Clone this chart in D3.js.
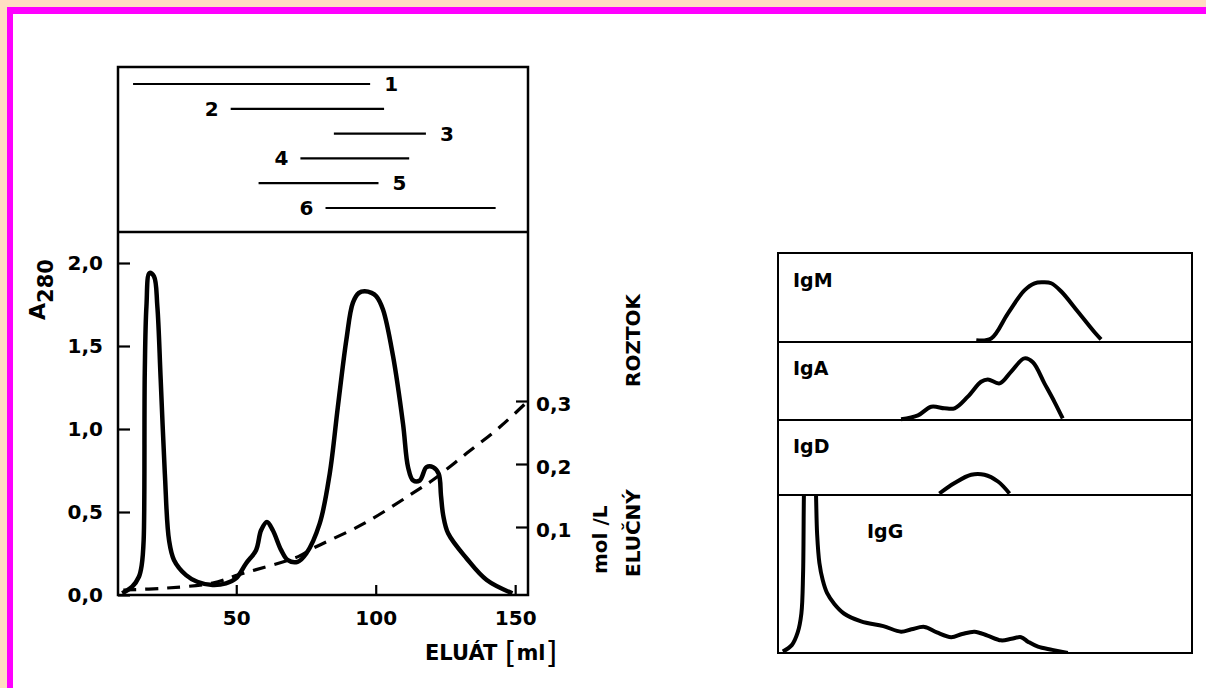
<!DOCTYPE html>
<html><head><meta charset="utf-8">
<script src="https://cdn.jsdelivr.net/npm/d3@7"></script>
<style>
html,body{margin:0;padding:0;background:#fff;}
svg{display:block;}
text{font-family:"DejaVu Sans",sans-serif;font-weight:bold;fill:#000;}
</style></head><body>
<svg id="c" width="1206" height="688"></svg>
<script>
// ---------- data ----------
const fractionIds = [1, 2, 3, 4, 5, 6];
const fractionStart = [13, 48, 85, 73, 58, 82];
const fractionEnd = [98, 103, 118, 112, 101, 143];
const fractionLabelSide = ["end", "start", "end", "start", "end", "start"];

const xTicks = [50, 100, 150];
const a280Ticks = [0, 0.5, 1.0, 1.5, 2.0];
const concTicks = [0.1, 0.2, 0.3];

const elutionMl = [9.1, 12.7, 15.1, 16.1, 16.8, 17.2, 17.8, 18.9, 20.5, 21.7, 22.9, 24.4, 25.9, 27.7, 32, 36, 41.5, 46.3, 49.9, 53.5, 57.1, 58.9, 61, 63.1, 66.1, 68.5, 72, 75.1, 79.9, 83.5, 86.4, 89.5, 91.8, 94, 96, 98.5, 100.2, 102.6, 106.2, 109.8, 111.6, 113.4, 115.8, 118.2, 120.6, 122.6, 123.4, 124.2, 126, 132.6, 139.8, 149];
const a280 = [0.01, 0.05, 0.11, 0.18, 0.33, 1.34, 1.74, 1.94, 1.92, 1.74, 1.30, 0.73, 0.33, 0.21, 0.12, 0.08, 0.06, 0.07, 0.10, 0.19, 0.27, 0.39, 0.44, 0.39, 0.27, 0.21, 0.20, 0.25, 0.43, 0.73, 1.13, 1.54, 1.76, 1.82, 1.83, 1.82, 1.80, 1.72, 1.44, 1.03, 0.77, 0.69, 0.69, 0.77, 0.77, 0.73, 0.60, 0.48, 0.37, 0.22, 0.09, 0.01];

const concMl = [9.5, 24.7, 41.5, 50.7, 72.2, 77.4, 96, 115.8, 120.6, 132.6, 144.6, 154.6];
const concMolL = [0.0, 0.003, 0.011, 0.024, 0.053, 0.066, 0.106, 0.161, 0.175, 0.217, 0.259, 0.30];

const igClasses = ["IgM", "IgA", "IgD", "IgG"];
const igmMl = [78, 83.3, 89.2, 95.1, 98.7, 101.6, 104.6, 108.1, 114.1, 120, 122.3];
const igmVal = [0.02, 0.04, 0.32, 0.58, 0.66, 0.67, 0.66, 0.57, 0.34, 0.11, 0.03];
const igaMl = [51.3, 57.3, 62, 66.7, 70.3, 75, 79.7, 82.1, 86.3, 90.4, 95.1, 98.1, 102.2, 105.8, 108.7];
const igaVal = [0.01, 0.06, 0.17, 0.15, 0.15, 0.30, 0.49, 0.52, 0.47, 0.62, 0.79, 0.74, 0.47, 0.23, 0.02];
const igdMl = [64.9, 70.3, 76.2, 80.9, 85.7, 89.8];
const igdVal = [0.02, 0.16, 0.27, 0.27, 0.18, 0.02];
const iggMl = [9.3, 12.5, 14.6, 15.9, 16.5, 16.8, 17.3, 18.9, 20.5, 21.1, 21.5, 22.3, 23.5, 25, 27.6, 31, 37.1, 45, 51.3, 55, 59.6, 64, 69.1, 73, 77.4, 82, 86.8, 90.5, 93.9, 96.5, 99.9, 105, 110.5];
const iggVal = [0.01, 0.05, 0.13, 0.25, 0.5, 1.0, 1.4, 1.6, 1.4, 1.0, 0.75, 0.57, 0.46, 0.38, 0.31, 0.25, 0.20, 0.17, 0.135, 0.15, 0.165, 0.13, 0.10, 0.12, 0.135, 0.11, 0.08, 0.09, 0.10, 0.07, 0.04, 0.02, 0.0];

// ---------- drawing ----------
const svg = d3.select("#c");
const fmt = d3.formatLocale({decimal: ",", thousands: " ", grouping: [3], currency: ["", ""]}).format(".1f");

// page background / frame
svg.append("rect").attr("x", 0).attr("y", 0).attr("width", 1206).attr("height", 688).attr("fill", "#FFDFC2");
svg.append("rect").attr("x", 7).attr("y", 7).attr("width", 1199).attr("height", 681).attr("fill", "#FF00FF");
svg.append("rect").attr("x", 13).attr("y", 14).attr("width", 1193).attr("height", 674).attr("fill", "#FFFFFF");

// left chart geometry
const L = {left: 118, right: 528, top: 67, sep: 232, bottom: 595};
const x = d3.scaleLinear().domain([7.6, 154.6]).range([L.left, L.right]);
const yA = d3.scaleLinear().domain([0, 2]).range([L.bottom, 263]);
const yC = d3.scaleLinear().domain([0, 0.3]).range([590, 401]);
const yRow = d3.scalePoint().domain(fractionIds).range([84, 208]);

const g = svg.append("g");
g.append("rect").attr("x", L.left).attr("y", L.top).attr("width", L.right - L.left).attr("height", L.bottom - L.top)
  .attr("fill", "none").attr("stroke", "#000").attr("stroke-width", 2.5);
g.append("line").attr("x1", L.left).attr("x2", L.right).attr("y1", L.sep).attr("y2", L.sep)
  .attr("stroke", "#000").attr("stroke-width", 2.5);

// fraction bars
fractionIds.forEach((id, i) => {
  const yy = yRow(id);
  g.append("line").attr("x1", x(fractionStart[i])).attr("x2", x(fractionEnd[i])).attr("y1", yy).attr("y2", yy)
    .attr("stroke", "#000").attr("stroke-width", 2.2);
  const side = fractionLabelSide[i];
  g.append("text")
    .attr("x", side === "end" ? x(fractionEnd[i]) + 14 : x(fractionStart[i]) - 12)
    .attr("y", yy + 7)
    .attr("text-anchor", side === "end" ? "start" : "end")
    .attr("font-size", 20).text(id);
});

// axes
const axL = d3.axisLeft(yA).tickValues(a280Ticks).tickSize(-12).tickPadding(15).tickFormat(fmt);
const gl = g.append("g").attr("transform", `translate(${L.left},0)`).call(axL);
const axB = d3.axisBottom(x).tickValues(xTicks).tickSize(-10).tickPadding(16).tickFormat(d3.format("d"));
const gb = g.append("g").attr("transform", `translate(0,${L.bottom})`).call(axB);
const axR = d3.axisRight(yC).tickValues(concTicks).tickSize(-12).tickPadding(8).tickFormat(fmt);
const gr = g.append("g").attr("transform", `translate(${L.right},0)`).call(axR);
[gl, gb, gr].forEach(a => {
  a.select(".domain").remove();
  a.selectAll(".tick line").attr("stroke", "#000").attr("stroke-width", 2.2);
  a.selectAll(".tick text").attr("font-size", 20).attr("font-family", "DejaVu Sans").attr("font-weight", "bold").attr("fill", "#000");
});
gr.selectAll(".tick text").attr("dy", "0.45em");

// curves
const line = d3.line().curve(d3.curveCatmullRom.alpha(0.5));
g.append("path").attr("d", line(concMl.map((d, i) => [x(d), yC(concMolL[i])])))
  .attr("fill", "none").attr("stroke", "#000").attr("stroke-width", 3.2).attr("stroke-dasharray", "13,9");
g.append("path").attr("d", line(elutionMl.map((d, i) => [x(d), yA(a280[i])])))
  .attr("fill", "none").attr("stroke", "#000").attr("stroke-width", 4.5).attr("stroke-linejoin", "round");

// axis titles
g.append("text").attr("transform", "translate(45,320) rotate(-90)").attr("font-size", 22)
  .call(t => { t.append("tspan").text("A"); t.append("tspan").attr("dy", 8).attr("font-size", 21).text("280"); });
g.append("text").attr("transform", "translate(607,574) rotate(-90)").attr("font-size", 20).text("mol /L");
g.append("text").attr("transform", "translate(640,577) rotate(-90)").attr("font-size", 20).text("ELUČNÝ");
g.append("text").attr("transform", "translate(640,387) rotate(-90)").attr("font-size", 20).text("ROZTOK");
g.append("text").attr("x", 425).attr("y", 660).attr("font-size", 21)
  .call(t => {
    t.append("tspan").text("ELUÁT ");
    t.append("tspan").attr("font-size", 30).attr("font-weight", "normal").attr("dy", 3).text("[");
    t.append("tspan").attr("font-size", 21).attr("dy", -3).text("ml");
    t.append("tspan").attr("font-size", 30).attr("font-weight", "normal").attr("dy", 3).text("]");
  });

// right panels
const bounds = [253, 342, 420, 495, 653];
const xr = d3.scaleLinear().domain([7.6, 154.6]).range([778, 1192]);
const igMl = [igmMl, igaMl, igdMl, iggMl];
const igVal = [igmVal, igaVal, igdVal, iggVal];
const labelPos = [[793, 287], [793, 375], [793, 453], [867, 538]];
const rg = svg.append("g");
rg.append("defs").append("clipPath").attr("id", "clipG").append("rect")
  .attr("x", 778).attr("y", bounds[3]).attr("width", 414).attr("height", bounds[4] - bounds[3]);
igClasses.forEach((name, i) => {
  const yP = d3.scaleLinear().domain([0, 1]).range([bounds[i + 1], bounds[i]]);
  rg.append("rect").attr("x", 778).attr("y", bounds[i]).attr("width", 414).attr("height", bounds[i + 1] - bounds[i])
    .attr("fill", "none").attr("stroke", "#000").attr("stroke-width", 2);
  rg.append("path").attr("d", line(igMl[i].map((d, j) => [xr(d), yP(igVal[i][j])])))
    .attr("fill", "none").attr("stroke", "#000").attr("stroke-width", 4).attr("stroke-linejoin", "round")
    .attr("clip-path", name === "IgG" ? "url(#clipG)" : null);
  rg.append("text").attr("x", labelPos[i][0]).attr("y", labelPos[i][1]).attr("font-size", 19).text(name);
});
</script>
</body></html>
